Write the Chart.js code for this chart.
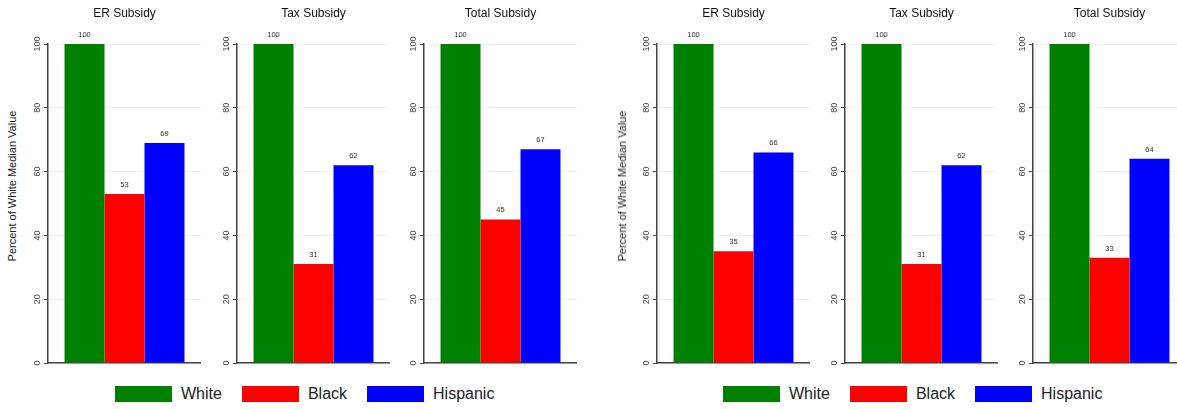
<!DOCTYPE html>
<html>
<head>
<meta charset="utf-8">
<script src="https://cdn.jsdelivr.net/npm/chart.js@4"></script>
<style>
  body { margin: 0; background: #fff; font-family: 'Liberation Sans', Arial, sans-serif; }
  #wrap { position: relative; width: 1177px; height: 409px; overflow: hidden; }
  #wrap canvas { position: absolute; top: 0; }
  .ylab { position: absolute; white-space: nowrap; font-size: 11px; color: #222;
          transform: translate(-50%, -50%) rotate(-90deg); }
  .legend { position: absolute; top: 385px; display: flex; gap: 20px; }
  .legend .item { display: flex; align-items: center; font-size: 16px; color: #222; height: 18px; }
  .legend .box { display: inline-block; width: 57px; height: 16px; margin-right: 9px; }
</style>
</head>
<body>
<div id="wrap">
  <canvas id="p0" width="183" height="370"></canvas>
  <canvas id="p1" width="183" height="370"></canvas>
  <canvas id="p2" width="183" height="370"></canvas>
  <canvas id="p3" width="183" height="370"></canvas>
  <canvas id="p4" width="183" height="370"></canvas>
  <canvas id="p5" width="183" height="370"></canvas>
  <div class="ylab" style="left:12px; top:186px;">Percent of White Median Value</div>
  <div class="ylab" style="left:622px; top:186px;">Percent of White Median Value</div>
  <div class="legend" id="legLeft" style="left:115px;"></div>
  <div class="legend" id="legRight" style="left:723px;"></div>
</div>
<script>
// data
const panelTitles = ['ER Subsidy', 'Tax Subsidy', 'Total Subsidy'];
const seriesNames = ['White', 'Black', 'Hispanic'];
const seriesColors = ['#008000', '#ff0000', '#0000ff'];

// left group
const leftWhite    = [100, 100, 100];
const leftBlack    = [53, 31, 45];
const leftHispanic = [69, 62, 67];

// right group
const rightWhite    = [100, 100, 100];
const rightBlack    = [35, 31, 33];
const rightHispanic = [66, 62, 64];

const yTicks = [0, 20, 40, 60, 80, 100];

// where each panel's y axis sits
const axisX = [48, 237, 424, 657, 845, 1033];
const yAxisWidth = 30;

const valueLabels = {
  id: 'valueLabels',
  afterDatasetsDraw(chart) {
    const ctx = chart.ctx;
    ctx.save();
    ctx.font = '7.5px "Liberation Sans", Arial, sans-serif';
    ctx.fillStyle = '#333';
    ctx.textAlign = 'center';
    ctx.textBaseline = 'alphabetic';
    chart.data.datasets.forEach((ds, i) => {
      chart.getDatasetMeta(i).data.forEach((bar, j) => {
        ctx.fillText(ds.data[j], bar.x, bar.y - 7);
      });
    });
    ctx.restore();
  }
};

function makePanel(idx, title, values) {
  const cv = document.getElementById('p' + idx);
  cv.style.left = (axisX[idx] - yAxisWidth) + 'px';
  new Chart(cv, {
    type: 'bar',
    data: {
      labels: [''],
      datasets: seriesNames.map((name, i) => ({
        label: name,
        data: [values[i]],
        backgroundColor: seriesColors[i],
        borderWidth: 0
      }))
    },
    options: {
      responsive: false,
      animation: false,
      layout: { padding: { bottom: 7 } },
      datasets: { bar: { categoryPercentage: 0.784, barPercentage: 1 } },
      plugins: {
        legend: { display: false },
        tooltip: { enabled: false },
        title: {
          display: true,
          text: title,
          fullSize: false,
          color: '#111',
          font: { family: "'Liberation Sans', Arial, sans-serif", size: 12, weight: 'normal' },
          padding: { top: 6, bottom: 23.6 }
        }
      },
      scales: {
        x: {
          grid: { display: false, drawTicks: false },
          ticks: { display: false },
          border: { display: true, color: '#444', width: 1.5 }
        },
        y: {
          min: 0,
          max: 100,
          afterBuildTicks(s) { s.ticks = yTicks.map(v => ({ value: v })); },
          afterFit(s) { s.width = yAxisWidth; },
          ticks: {
            minRotation: 90, maxRotation: 90, crossAlign: 'center', padding: -1,
            color: '#444',
            font: { family: "'Liberation Sans', Arial, sans-serif", size: 9 }
          },
          grid: { color: '#edf2f2', tickColor: '#444', tickLength: 4, lineWidth: 1 },
          border: { color: '#444', width: 1.5 }
        }
      }
    },
    plugins: [valueLabels]
  });
}

for (let k = 0; k < 3; k++) {
  makePanel(k, panelTitles[k], [leftWhite[k], leftBlack[k], leftHispanic[k]]);
  makePanel(k + 3, panelTitles[k], [rightWhite[k], rightBlack[k], rightHispanic[k]]);
}

function makeLegend(id) {
  const el = document.getElementById(id);
  seriesNames.forEach((name, i) => {
    const item = document.createElement('div');
    item.className = 'item';
    const box = document.createElement('span');
    box.className = 'box';
    box.style.background = seriesColors[i];
    item.appendChild(box);
    item.appendChild(document.createTextNode(name));
    el.appendChild(item);
  });
}
makeLegend('legLeft');
makeLegend('legRight');
</script>
</body>
</html>
